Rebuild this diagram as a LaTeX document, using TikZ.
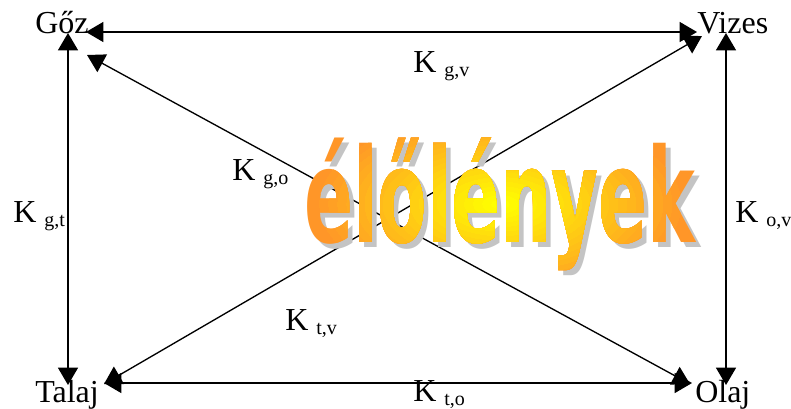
\documentclass[tikz,border=0pt]{standalone}
\usepackage{fontspec}
\setmainfont{Liberation Serif}
\newfontfamily\wordfont{DejaVu Sans Condensed}
\usetikzlibrary{arrows.meta}

\definecolor{wordorange}{RGB}{255,150,40}
\definecolor{wordyellow}{RGB}{255,255,0}
\definecolor{wordshadow}{RGB}{196,196,196}

\newcommand{\ksub}[1]{K\ \raisebox{-3pt}{\fontsize{15}{15}\selectfont #1}}
\newcommand{\wordtext}{\scalebox{0.6}[0.98]{\wordfont\bfseries\fontsize{100}{100}\selectfont élőlények}}

\begin{document}
\begin{tikzpicture}[x=0.75pt, y=-0.75pt,
  lbl/.style={font=\fontsize{24}{24}\selectfont, inner sep=0pt, anchor=base west},
  link/.style={{Triangle[length=13pt,width=15pt]}-{Triangle[length=13pt,width=15pt]}, line width=1pt},
  word/.style={inner sep=0pt}
]
  \useasboundingbox (0,0) rectangle (791,408);

  % phases
  \node[lbl] (goz) at (35,33) {Gőz};
  \node[lbl] (vizes) at (697,33) {Vizes};
  \node[lbl] (talaj) at (35,402) {Talaj};
  \node[lbl] (olaj) at (695,402) {Olaj};

  % arrow ends
  \coordinate (gozE) at (86,32);
  \coordinate (gozS) at (68,33);
  \coordinate (gozD) at (87,55);
  \coordinate (vizesW) at (697,32);
  \coordinate (vizesS) at (726,33);
  \coordinate (vizesD) at (702,36);
  \coordinate (talajN) at (68,385);
  \coordinate (talajE) at (104,383);
  \coordinate (talajD) at (104,384);
  \coordinate (olajN) at (726,385);
  \coordinate (olajW) at (692,383);
  \coordinate (olajD) at (690,384);

  % partition arrows
  \draw[link] (gozE) -- (vizesW);
  \draw[link] (gozS) -- (talajN);
  \draw[link] (vizesS) -- (olajN);
  \draw[link] (talajE) -- (olajW);
  \draw[link] (gozD) -- (olajD);
  \draw[link] (talajD) -- (vizesD);

  % coefficients
  \node[lbl] (kgv) at (413,72) {\ksub{g,v}};
  \node[lbl] (kgo) at (232,180) {\ksub{g,o}};
  \node[lbl] (kgt) at (13,222) {\ksub{g,t}};
  \node[lbl] (kov) at (735,222) {\ksub{o,v}};
  \node[lbl] (ktv) at (285,330) {\ksub{t,v}};
  \node[lbl] (kto) at (413,401) {\ksub{t,o}};

  % word art: shadow, then radial colour steps
  \node[word, text=wordshadow] (wordshade) at (505,209) {\wordtext};
  \node[word, text=wordorange] (wordart) at (500,204) {\wordtext};
  \foreach \i in {1,...,20}{
    \begin{scope}
      \clip (wordart.center) ellipse ({190*(1-\i/21)} and {95*(1-\i/21)});
      \node[word, text=wordyellow!\the\numexpr\i*5\relax!wordorange] at (wordart.center) {\wordtext};
    \end{scope}
  }
\end{tikzpicture}
\end{document}
